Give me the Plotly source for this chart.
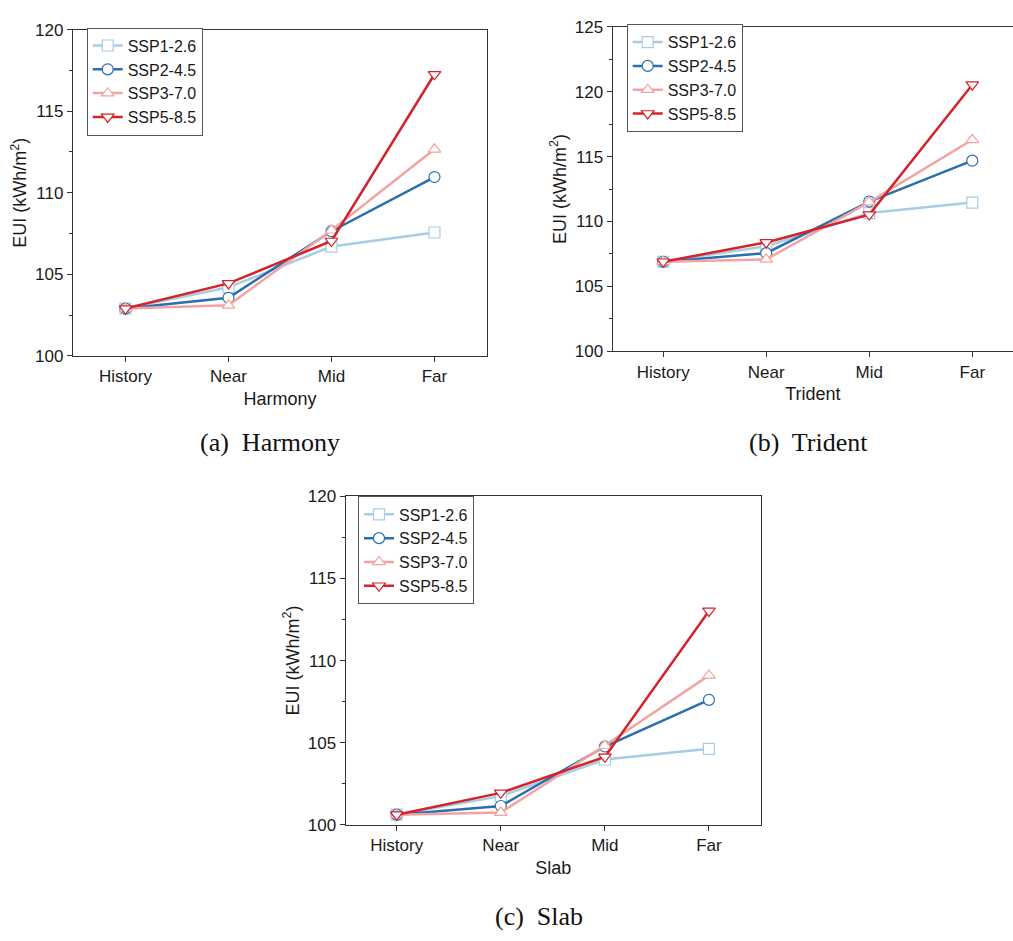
import plotly.graph_objects as go

# Periods on the horizontal axis
periods = ["History", "Near", "Mid", "Far"]
scenarios = ["SSP1-2.6", "SSP2-4.5", "SSP3-7.0", "SSP5-8.5"]

# EUI (kWh/m2) by building type and scenario
harmony_ssp126 = [102.9, 104.2, 106.7, 107.56]
harmony_ssp245 = [102.9, 103.56, 107.64, 110.96]
harmony_ssp370 = [102.9, 103.1, 107.7, 112.66]
harmony_ssp585 = [102.9, 104.44, 107.04, 117.26]

trident_ssp126 = [106.9, 108.1, 110.65, 111.46]
trident_ssp245 = [106.9, 107.56, 111.54, 114.69]
trident_ssp370 = [106.9, 107.08, 111.5, 116.3]
trident_ssp585 = [106.9, 108.39, 110.53, 120.55]

slab_ssp126 = [100.62, 101.75, 103.98, 104.63]
slab_ssp245 = [100.62, 101.15, 104.77, 107.61]
slab_ssp370 = [100.62, 100.75, 104.83, 109.1]
slab_ssp585 = [100.62, 101.95, 104.14, 113.02]

colors = ["#a6cde3", "#2a6fae", "#f4a3a3", "#d4232b"]
symbols = ["square", "circle", "triangle-up", "triangle-down"]

W, H = 1013, 941
FONT = "Arial, Liberation Sans, sans-serif"
SERIF = "Liberation Serif, Times New Roman, serif"


def px_x(a, b):
    return [a / W, b / W]


def px_y(top, bottom):
    return [1 - bottom / H, 1 - top / H]


panels = [
    dict(name="Harmony", series=[harmony_ssp126, harmony_ssp245, harmony_ssp370, harmony_ssp585],
         xd=px_x(73, 487), yd=px_y(21, 354), xr=[-0.51, 3.51], yr=[100, 120],
         legend="legend", leg=(86.7, 19), mirror_y=True),
    dict(name="Trident", series=[trident_ssp126, trident_ssp245, trident_ssp370, trident_ssp585],
         xd=[612.7 / W, 1.0], yd=px_y(18.3, 349.3), xr=[-0.49, 3.395], yr=[100, 125],
         legend="legend2", leg=(626.7, 15.5), mirror_y=False),
    dict(name="Slab", series=[slab_ssp126, slab_ssp245, slab_ssp370, slab_ssp585],
         xd=px_x(345.7, 761), yd=px_y(497.3, 832.7), xr=[-0.49, 3.5], yr=[100, 120],
         legend="legend3", leg=(358, 497.5), mirror_y=True),
]

fig = go.Figure()
layout = {}
for i, p in enumerate(panels):
    suffix = "" if i == 0 else str(i + 1)
    xa, ya = "x" + suffix, "y" + suffix
    for s, (name, vals) in enumerate(zip(scenarios, p["series"])):
        fig.add_trace(go.Scatter(
            x=periods, y=vals, name=name, mode="lines+markers",
            xaxis=xa, yaxis=ya, legend=p["legend"],
            line=dict(color=colors[s], width=2.5),
            marker=dict(symbol=symbols[s], size=11, color="white",
                        line=dict(width=1.2, color=colors[s])),
        ))
    layout["xaxis" + suffix] = dict(
        domain=p["xd"], anchor=ya, type="category", categoryorder="array",
        categoryarray=periods, range=p["xr"],
        showline=True, linecolor="#333", linewidth=1.3, mirror=True,
        ticks="outside", ticklen=5, tickcolor="#333", tickwidth=1.3,
        showgrid=False, zeroline=False,
        tickfont=dict(family=FONT, size=17, color="#1a1a1a"),
        title=dict(text=p["name"], font=dict(family=FONT, size=18, color="#1a1a1a"), standoff=6),
    )
    layout["yaxis" + suffix] = dict(
        domain=p["yd"], anchor=xa, range=p["yr"], dtick=5,
        showline=True, linecolor="#333", linewidth=1.3, mirror=p["mirror_y"],
        ticks="outside", ticklen=5, tickcolor="#333", tickwidth=1.3,
        minor=dict(dtick=2.5, ticks="outside", ticklen=3, tickcolor="#333", tickwidth=1),
        showgrid=False, zeroline=False,
        tickfont=dict(family=FONT, size=17, color="#1a1a1a"),
        title=dict(text="EUI (kWh/m<sup>2</sup>)", font=dict(family=FONT, size=18, color="#1a1a1a"),
                   standoff=3),
    )
    layout[p["legend"]] = dict(
        x=p["leg"][0] / W, y=1 - p["leg"][1] / H, xanchor="left", yanchor="top",
        bgcolor="rgba(255,255,255,1)", bordercolor="#555", borderwidth=1,
        font=dict(family=FONT, size=16, color="#1a1a1a"),
        tracegroupgap=0, itemwidth=30,
    )

captions = [("(a)  Harmony", 270, 442), ("(b)  Trident", 808, 442), ("(c)  Slab", 539, 926)]
annotations = [
    dict(text=t, x=cx / W, y=1 - cy / H, xref="paper", yref="paper",
         showarrow=False, xanchor="center", yanchor="middle",
         font=dict(family=SERIF, size=26, color="#111"))
    for t, cx, cy in captions
]

fig.update_layout(
    width=W, height=H, margin=dict(l=0, r=0, t=0, b=0),
    paper_bgcolor="white", plot_bgcolor="white",
    showlegend=True, annotations=annotations, **layout,
)

fig.write_html("out.html")
